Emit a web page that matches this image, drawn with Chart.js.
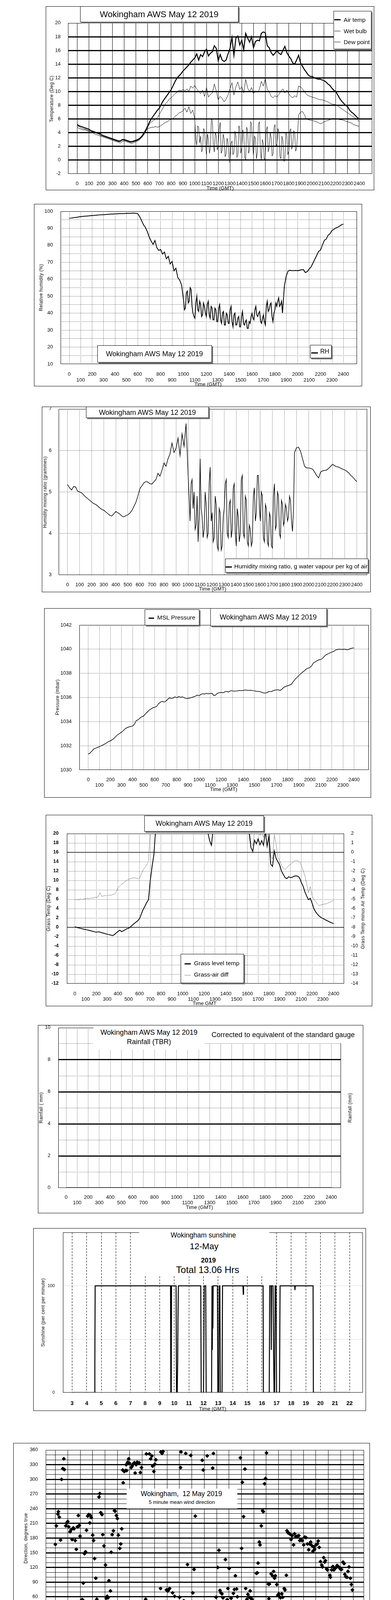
<!DOCTYPE html>
<html>
<head>
<meta charset="utf-8">
<title>Wokingham AWS May 12 2019</title>
<script src="https://cdn.jsdelivr.net/npm/chart.js@4.4.0/dist/chart.umd.min.js"></script>
<style>
  html, body { margin: 0; padding: 0; background: #fff; }
  body { position: relative; width: 1000px; height: 5000px; overflow: hidden;
         font-family: "Liberation Sans", Arial, sans-serif; color: #000; }
  .frame { position: absolute; border: 1px solid #000; box-sizing: border-box; background: #fff; }
  .frame canvas { position: absolute; left: 0; top: 0; }
  .box { position: absolute; box-sizing: border-box; background: #fff; overflow: hidden; }
  .edge { border: 1px solid #000; box-shadow: 3px 3px 0 #808080; overflow: visible; }
  .txt { position: absolute; white-space: pre; line-height: 1; }
  .sw { position: absolute; }
</style>
</head>
<body>
<script>
// ---------- axis ticks ----------
const hhmmTicks = [0,100,200,300,400,500,600,700,800,900,1000,1100,1200,1300,1400,1500,1600,1700,1800,1900,2000,2100,2200,2300,2400];
const tempTicks = [-2,0,2,4,6,8,10,12,14,16,18,20];
const rhTicks = [10,20,30,40,50,60,70,80,90,100];
const mixTicks = [3,4,5,6,7];
const pressTicks = [1030,1032,1034,1036,1038,1040,1042];
const grassTicks = [-12,-10,-8,-6,-4,-2,0,2,4,6,8,10,12,14,16,18,20];
const grassDiffTicks = [-14,-13,-12,-11,-10,-9,-8,-7,-6,-5,-4,-3,-2,-1,0,1,2];
const rainTicks = [0,2,4,6,8,10];
const sunTicks = [0,100];
const sunHours = [3,4,5,6,7,8,9,10,11,12,13,14,15,16,17,18,19,20,21,22];
const dirTicks = [0,30,60,90,120,150,180,210,240,270,300,330,360];
const dirHours = [0,1,2,3,4,5,6,7,8,9,10,11,12,13,14,15,16,17,18,19,20,21,22,23,24];
const speedTicks = [0,10,20,30,40,50];
const speedHours = [0,1,2,3,4,5,6,7,8,9,10,11,12,13,14,15,16,17,18,19,20,21,22,23];
const speedHourLabels = ['00:00','01:00','02:00','03:00','04:00','05:00','06:00','07:00','08:00','09:00','10:00','11:00',
  '12:00','13:00','14:00','15:00','16:00','17:00','18:00','19:00','20:00','21:00','22:00','23:00'];

// ---------- 10 minute values, 00:00 .. 24:00 ----------
const airTemp = [
  5.2,5.0,4.9,4.8,4.7,4.6, 4.5,4.3,4.2,4.1,4.0,3.9, 3.8,3.6,3.5,3.4,3.3,3.2, 3.1,3.0,2.9,2.8,2.8,3.0,
  3.0,2.9,2.8,2.7,2.7,2.8, 2.9,3.0,3.2,3.5,3.9,4.4, 5.0,5.6,6.1,6.5,6.9,7.3, 7.6,8.2,8.7,9.1,9.5,9.9,
  10.3,10.9,11.5,12.0,12.3,12.6, 13.0,13.3,13.6,13.9,14.3,14.6, 14.9,15.5,14.6,15.4,15.1,15.8, 16.2,15.2,15.6,15.8,16.7,16.3,
  14.5,15.4,14.6,14.4,14.6,15.5, 16.3,17.9,15.3,17.8,18.1,16.8, 17.5,16.1,18.5,17.8,17.2,18.0, 16.4,17.3,17.5,17.4,18.5,18.7,
  18.6,16.7,16.4,15.7,15.3,15.6, 16.0,15.6,15.4,16.0,16.6,15.7, 15.2,14.8,14.2,14.0,14.6,15.3, 14.2,13.7,13.2,12.8,12.4,12.2,
  12.2,12.0,11.9,11.8,11.8,11.7, 11.6,11.4,11.1,10.9,10.5,10.2, 10.0,9.5,9.0,8.6,8.3,8.0, 7.8,7.3,7.0,6.8,6.5,6.2, 6.0];
const wetBulb = [
  5.0,4.9,4.7,4.6,4.5,4.4, 4.3,4.2,4.1,4.0,3.9,3.8, 3.6,3.5,3.4,3.3,3.2,3.1, 3.0,2.9,2.8,2.7,2.7,2.9,
  2.9,2.8,2.7,2.6,2.6,2.7, 2.8,2.9,3.1,3.4,3.8,4.3, 4.8,5.3,5.6,5.8,6.0,6.2, 6.7,7.2,7.7,8.2,8.5,8.9,
  9.1,9.4,9.7,9.9,10.2,10.1, 10.3,10.1,10.4,10.0,10.8,10.5, 10.9,10.4,10.0,9.7,10.2,9.3, 10.6,9.2,9.6,9.8,11.1,10.1,
  8.8,9.3,9.0,8.5,8.9,9.5, 10.4,11.3,9.5,10.7,11.4,10.3, 10.7,9.8,11.8,10.5,10.0,10.6, 9.7,10.1,9.9,10.3,11.5,10.8,
  11.9,10.3,10.0,9.3,9.1,9.4, 9.2,9.6,10.1,10.4,9.8,10.2, 9.7,9.3,9.1,9.4,9.2,10.8, 10.7,10.4,10.0,9.6,9.4,9.3,
  9.2,9.1,9.0,8.9,8.8,8.8, 8.7,8.6,8.5,8.3,8.2,8.1, 8.1,7.9,7.7,7.5,7.3,7.1, 6.9,6.7,6.5,6.3,6.1,5.9, 5.6];

// dew point: 10 min 00:00-09:50, 5 min 10:00-18:45, 10 min 18:50-24:00
const dewPointNight = [
  4.8,4.6,4.5,4.4,4.4,4.3, 4.2,4.0,4.0,3.8,3.7,3.6, 3.5,3.4,3.3,3.2,3.1,3.0, 2.9,2.8,2.7,2.6,2.5,2.7,
  2.8,2.7,2.6,2.5,2.4,2.6, 2.7,2.8,3.0,3.3,3.7,4.2, 4.6,4.7,4.8,4.8,4.9,4.8, 4.9,5.1,5.3,5.5,5.6,5.8,
  6.0,6.1,6.4,6.6,6.9,7.0, 7.2,7.6,7.0,7.8,6.8,7.3];
const dewPointDay = [
  6.0,3.0,2.2,5.0,4.8,2.5,3.5,1.2,1.5,4.6,4.4,2.0,
  0.8,3.8,3.0,1.0,1.9,6.0,5.8,2.2,1.2,4.0,3.6,1.5,
  2.0,4.6,5.5,1.0,1.4,3.8,3.1,0.5,0.9,3.2,2.6,0.3,
  -0.4,2.4,2.8,0.8,1.1,4.2,3.6,0.4,0.6,5.0,4.7,1.0,
  1.8,4.4,3.9,0.3,0.1,4.8,4.3,1.0,1.5,5.6,5.4,2.0,
  0.7,3.5,3.2,0.2,1.2,5.2,5.6,1.4,0.0,3.0,2.5,0.1,
  0.3,4.4,4.9,1.2,1.8,4.0,3.3,0.6,0.9,4.8,5.2,2.0,
  2.4,4.6,4.1,0.5,0.2,3.5,2.9,-0.2,-0.1,4.0,3.6,0.8,
  1.3,4.2,4.6,1.6,2.1,4.3,4.0,1.3,1.7,3.8];
const dewPointEve = [
  6.6, 7.0,7.1,6.6,6.0,5.9,5.8, 5.8,5.7,5.6,5.5,5.3,5.4, 5.6,5.7,5.8,5.9,6.0,6.1, 6.0,6.0,5.9,5.9,5.8,5.7,
  5.6,5.5,5.4,5.2,5.1,5.0, 4.9];

const rhNight = [
  95.9,96.0,96.2,96.4,96.5,96.7, 96.9,97.0,97.1,97.2,97.3,97.4, 97.5,97.6,97.7,97.8,97.9,98.0, 98.0,98.1,98.2,98.3,98.4,98.4,
  98.5,98.5,98.6,98.6,98.7,98.7, 98.8,98.8,98.8,98.9,98.9,98.8, 98.6,96.8,94.5,92.0,90.5,88.0, 84.8,82.5,80.5,82.8,78.5,77.0,
  77.5,74.8,76.0,72.0,73.5,69.0, 70.5,65.0,66.5,61.0,59.5,56.5];
const rhDay = [
  48,42,43,52,53,46,47,55,54,44,40,38,
  37,46,50,42,41,47,45,38,39,46,44,40,
  38,45,47,39,37,44,43,36,36,43,42,35,
  35,43,45,36,34,40,41,33,33,40,39,34,
  34,42,44,35,32,39,40,33,33,37,38,32,
  32,38,41,34,33,35,36,31,31,35,34,38,
  40,37,36,42,44,39,38,40,41,35,34,37,
  39,35,33,44,47,41,42,45,46,38,35,40,
  42,46,44,47,49,44,45,47,40,48];
const rhEve = [
  56.0, 62.0,64.9,65.3,65.0,65.0,65.2, 65.0,65.3,65.6,65.7,63.9,64.5, 66.0,67.2,69.5,71.8,74.1,76.4,
  77.2,80.2,82.9,83.7,86.0,86.8, 88.7,89.4,90.2,90.6,91.3,92.1, 92.5];

const mixNight = [
  5.18,5.10,5.05,5.13,5.12,5.02, 5.00,4.98,4.93,4.88,4.84,4.80, 4.76,4.72,4.70,4.66,4.62,4.58, 4.56,4.52,4.48,4.44,4.42,4.47,
  4.53,4.50,4.47,4.42,4.40,4.43, 4.45,4.49,4.55,4.65,4.75,4.90, 5.08,5.15,5.22,5.25,5.24,5.20, 5.19,5.25,5.30,5.45,5.38,5.52,
  5.70,5.62,5.80,5.92,6.18,5.95, 6.05,6.30,5.88,6.40,6.10,6.65];
const mixDay = [
  5.45,4.9,4.30,5.2,5.30,4.6,5.00,4.1,4.20,4.9,3.80,4.4,
  5.80,4.6,4.40,3.9,4.10,5.0,4.70,3.9,4.00,5.2,5.60,4.3,
  4.50,3.8,3.90,4.9,4.70,3.7,3.60,4.6,4.50,3.6,3.70,4.4,
  4.60,5.2,5.30,4.0,3.90,4.7,4.80,3.9,4.10,5.1,5.20,4.0,
  3.70,4.6,4.40,3.8,4.00,5.3,5.40,4.0,3.90,4.9,4.80,3.8,
  3.70,4.2,4.10,3.7,3.80,4.9,5.10,4.3,4.50,5.4,5.40,4.6,
  4.30,5.0,4.90,3.9,3.80,4.7,4.60,3.8,3.70,4.5,4.40,3.7,
  3.65,4.9,5.20,4.1,4.20,5.0,4.90,4.0,3.90,4.8,4.70,4.2,
  4.30,4.7,4.60,4.3,4.40,4.9,4.80,4.3,4.05,4.6];
const mixEve = [
  5.95, 6.07,6.08,5.98,5.80,5.62,5.58, 5.58,5.57,5.55,5.48,5.40,5.34, 5.48,5.51,5.52,5.53,5.57,5.62,
  5.67,5.63,5.61,5.60,5.57,5.55, 5.53,5.50,5.46,5.40,5.36,5.30, 5.25];

const mslPressure = [
  1031.31,1031.40,1031.57,1031.74,1031.80,1031.86, 1031.93,1032.00,1032.07,1032.15,1032.25,1032.35,
  1032.41,1032.50,1032.63,1032.78,1032.92,1033.02, 1033.13,1033.25,1033.41,1033.50,1033.56,1033.60,
  1033.63,1033.80,1034.08,1034.15,1034.30,1034.40, 1034.47,1034.65,1034.80,1034.95,1035.05,1035.15,
  1035.19,1035.25,1035.47,1035.60,1035.68,1035.62, 1035.69,1035.85,1035.97,1035.92,1035.95,1036.05,
  1035.97,1036.08,1036.02,1036.05,1035.98,1035.90, 1035.92,1035.95,1036.00,1036.05,1036.10,1036.20,
  1036.14,1036.25,1036.31,1036.28,1036.35,1036.30, 1036.33,1036.35,1036.16,1036.20,1036.35,1036.40,
  1036.42,1036.38,1036.47,1036.50,1036.45,1036.55, 1036.55,1036.52,1036.53,1036.55,1036.58,1036.57,
  1036.58,1036.62,1036.60,1036.58,1036.60,1036.57, 1036.55,1036.52,1036.50,1036.48,1036.42,1036.38,
  1036.36,1036.42,1036.50,1036.48,1036.55,1036.60, 1036.64,1036.62,1036.58,1036.70,1036.85,1036.92,
  1036.97,1037.02,1037.09,1037.30,1037.50,1037.65, 1037.81,1037.95,1038.09,1038.20,1038.35,1038.42,
  1038.48,1038.62,1038.87,1038.95,1039.05,1039.12, 1039.15,1039.25,1039.43,1039.55,1039.62,1039.70,
  1039.76,1039.82,1039.93,1039.97,1040.00,1039.98, 1039.98,1040.00,1039.95,1039.97,1040.05,1040.08, 1040.12];
const grassTemp = [
  0.1,0.0,-0.1,-0.2,-0.3,-0.4, -0.47,-0.55,-0.65,-0.75,-0.85,-0.95, -1.04,-0.95,-1.0,-1.15,-1.25,-1.35, -1.47,-1.55,-1.65,-1.76,-1.55,-1.2,
  -0.9,-0.6,-0.9,-0.75,-0.5,-0.3, -0.18,0.1,0.45,0.8,1.1,1.4, 1.83,2.8,3.8,4.5,5.3,5.9, 10.0,13.0,15.5,21.0,24.0,26.0,
  27.0,28.0,29.0,29.5,30.0,30.5, 31.0,31.5,32.0,32.0,31.5,31.0, 30.0,29.0,28.0,27.0,26.0,25.0, 24.0,23.5,23.0,22.5,22.0,21.5,
  21.0,20.8,20.3,18.5,17.5,21.0, 22.0,22.0,22.0,22.0,21.0,21.0, 20.2,21.0,22.0,23.0,23.0,23.0, 23.0,23.0,22.0,22.0,21.5,21.0,
  20.5,20.2,17.0,16.2,18.6,17.8, 18.9,17.6,18.5,17.5,20.5,17.3, 19.5,13.5,13.0,16.3,14.7,14.0, 13.3,12.0,11.3,10.6,10.4,10.8,
  10.6,10.7,10.9,11.0,10.9,10.6, 9.6,8.8,7.6,6.7,5.9,6.2, 5.2,4.0,3.3,2.8,2.4,2.1, 1.9,1.7,1.5,1.3,1.1,0.95, 0.8];
const grassAirDiff = [
  -5.15,-5.0,-5.1,-4.95,-5.05,-4.95, -4.95,-4.9,-4.95,-4.85,-4.9,-4.8, -4.8,-4.75,-4.3,-4.7,-4.65,-4.6, -4.65,-4.55,-4.6,-4.5,-4.45,-4.2,
  -3.8,-3.6,-3.4,-3.3,-3.1,-3.0, -2.85,-2.8,-2.75,-2.7,-2.75,-2.8, -2.8,-2.3,-1.9,-1.6,-1.35,-0.9, 2.5,4.0,5.0,5.5,6.0,6.5,
  7.0,7.5,8.0,8.0,8.5,8.5, 9.0,9.0,9.0,9.0,8.5,8.5, 8.0,8.0,7.5,7.5,7.0,7.0, 6.5,6.5,6.0,6.0,6.0,6.0,
  6.0,6.0,5.5,4.0,3.5,5.0, 5.0,5.0,5.0,5.0,5.0,5.0, 5.0,5.0,5.0,5.0,5.0,5.0, 5.0,5.0,5.0,4.5,4.0,3.5,
  3.0,2.5,1.0,0.7,2.2,2.0, 2.4,1.8,2.2,1.6,2.6,1.7, 2.8,-0.4,-0.7,1.9,0.9,-0.5, -0.9,-1.35,-1.7,-1.85,-1.65,-1.4,
  -1.3,-1.1,-0.95,-0.85,-0.9,-1.0, -1.35,-1.9,-2.5,-3.35,-4.3,-3.65, -4.6,-5.0,-5.25,-5.5,-5.7,-5.6, -5.55,-5.5,-5.5,-5.4,-5.3,-5.2, -5.15];

// hourly rainfall total, mm
const rainfall = [0,0,0,0,0,0,0,0,0,0,0,0,0,0,0,0,0,0,0,0,0,0,0,0,0];

// sunshine, per cent per minute: [hour, value]
const sunshine = [
  [3,0],[4.55,0],[4.56,28],[4.58,100],[9.74,100],[9.76,0],[9.79,0],[9.81,100],[10.12,100],[10.15,0],[10.2,0],
  [10.23,30],[10.25,70],[10.28,100],[11.81,100],[11.84,0],[12.0,0],[12.05,100],[12.15,100],[12.18,0],[12.55,0],
  [12.58,100],[12.6,40],[12.62,100],[12.64,60],[12.66,100],[12.95,100],[12.98,0],[13.04,0],[13.07,100],[13.12,100],
  [13.15,0],[13.27,0],[13.3,100],[14.7,100],[14.72,92],[14.74,100],[16.08,100],[16.1,0],[16.5,0],[16.53,100],
  [16.62,100],[16.64,40],[16.66,100],[16.76,100],[16.8,33],[16.83,0],[16.87,0],[16.9,100],[16.96,100],[17.0,0],
  [17.2,0],[17.24,100],[18.24,100],[18.26,96],[18.28,100],[19.5,100],[19.52,0],[22,0]];

// 5 minute mean wind direction: [hour, degrees]
const windDir = [
  [0.0,167],[0.08,205],[0.2,229],[0.24,234],[0.32,223],[0.42,176],[0.5,300],[0.6,322],[0.68,342],[0.72,320],[0.84,205],
  [0.92,211],[1.0,214],[1.08,203],[1.19,193],[1.27,197],[1.35,177],[1.45,201],[1.5,199],[1.6,175],[1.69,157],[1.77,203],
  [1.85,226],[1.87,204],[1.93,206],[1.99,184],[2.13,54],[2.19,54],[2.25,88],[2.35,148],[2.43,152],[2.51,196],[2.61,225],
  [2.69,228],[2.77,211],[2.83,226],[2.89,222],[3.01,186],[3.08,175],[3.16,138],[3.26,98],[3.34,55],[3.42,37],[3.52,264],
  [3.58,271],[3.66,232],[3.76,228],[3.82,187],[3.92,164],[4.04,125],[4.1,57],[4.18,61],[4.24,58],[4.32,93],[4.44,72],
  [4.5,151],[4.58,187],[4.68,195],[4.76,236],[4.82,235],[4.92,226],[5.0,220],[5.08,186],[5.19,159],[5.27,168],[5.35,199],
  [5.43,319],[5.47,293],[5.55,316],[5.65,318],[5.71,330],[5.75,318],[5.83,335],[5.91,342],[5.97,333],[6.11,324],[6.19,327],
  [6.29,332],[6.37,334],[6.43,313],[6.51,330],[6.59,335],[6.67,333],[6.75,334],[6.85,314],[6.94,324],[7.02,6],[7.08,24],
  [7.18,12],[7.28,55],[7.34,352],[7.42,19],[7.52,0],[7.58,352],[7.68,342],[7.78,348],[7.84,327],[7.94,316],[8.02,331],
  [8.1,340],[8.16,15],[8.26,9],[8.34,16],[8.48,77],[8.5,356],[8.6,353],[8.68,357],[8.74,43],[8.88,50],[8.95,74],[9.01,47],
  [9.07,72],[9.13,75],[9.21,77],[9.27,33],[9.35,15],[9.45,68],[9.53,33],[9.61,61],[9.69,23],[9.73,33],[9.83,18],[9.87,27],
  [9.93,35],[10.01,59],[10.09,324],[10.13,356],[10.27,44],[10.35,52],[10.43,6],[10.51,353],[10.61,41],[10.65,126],[10.81,33],
  [10.89,37],[10.91,349],[11.02,13],[11.08,68],[11.18,116],[11.28,225],[11.32,30],[11.42,32],[11.54,42],[11.56,32],[11.74,4],
  [11.78,9],[11.82,10],[11.84,339],[11.92,319],[12.06,21],[12.12,25],[12.2,26],[12.24,348],[12.32,24],[12.42,23],[12.52,7],
  [12.6,5],[12.68,323],[12.74,353],[12.86,42],[12.95,59],[12.98,40],[13.09,120],[13.19,155],[13.27,73],[13.35,68],[13.43,66],
  [13.51,58],[13.61,24],[13.71,136],[13.77,41],[13.85,54],[13.91,77],[14.01,118],[14.1,41],[14.17,57],[14.27,21],[14.35,67],
  [14.43,75],[14.51,103],[14.61,76],[14.67,60],[14.79,33],[14.87,24],[14.91,344],[15.01,159],[15.07,294],[15.17,224],
  [15.28,321],[15.34,77],[15.44,55],[15.52,65],[15.64,59],[15.7,72],[15.74,58],[15.84,55],[15.94,46],[16.0,44],[16.08,38],
  [16.2,108],[16.28,109],[16.34,129],[16.44,172],[16.5,166],[16.6,205],[16.7,236],[16.76,234],[16.86,291],[16.94,302],
  [17.02,354],[17.07,21],[17.17,86],[17.21,56],[17.25,86],[17.39,107],[17.51,103],[17.59,112],[17.67,98],[17.73,103],
  [17.85,85],[17.93,63],[18.01,66],[18.07,60],[18.15,58],[18.25,66],[18.33,59],[18.45,77],[18.51,74],[18.62,104],[18.67,195],
  [18.75,191],[18.83,190],[18.92,188],[19.0,177],[19.08,185],[19.2,166],[19.28,189],[19.38,183],[19.5,184],[19.62,185],
  [19.7,175],[19.8,176],[19.9,175],[20.02,166],[20.1,182],[20.2,181],[20.32,168],[20.42,156],[20.5,168],[20.58,172],
  [20.66,165],[20.76,153],[20.82,162],[20.9,157],[21.01,166],[21.11,168],[21.19,174],[21.27,161],[21.37,132],[21.47,125],
  [21.53,121],[21.63,140],[21.71,131],[21.77,134],[21.87,117],[21.93,115],[22.13,104],[22.17,100],[22.27,115],[22.37,122],
  [22.45,115],[22.53,118],[22.63,120],[22.71,124],[22.79,122],[22.89,120],[22.97,117],[23.07,116],[23.19,131],[23.27,128],
  [23.33,106],[23.41,101],[23.51,100],[23.59,112],[23.67,121],[23.78,98],[23.86,85],[23.94,74]];

// wind speed, knots, 10 minute steps 00:00 .. 23:50
const meanSpeed = [
  0.9,1.2,1.5,1.6,2.0,1.4, 1.0,0.8,1.1,0.7,0.9,1.0, 1.2,2.3,1.6,1.3,1.5,1.1, 1.0,1.3,0.8,1.0,2.0,1.2,
  0.4,1.2,1.0,1.1,0.9,1.0, 1.1,0.9,0.8,0.2,0.9,1.4, 1.9,2.1,2.6,3.0,2.4,2.0, 1.6,1.9,1.5,2.1,1.4,2.0,
  1.5,2.0,1.7,1.9,1.4,2.2, 2.9,2.5,3.4,3.0,3.6,3.2, 3.1,2.4,1.1,3.0,3.4,2.5, 3.6,2.8,0.9,3.2,3.8,2.9,
  3.6,3.0,3.9,3.1,2.6,3.3, 3.6,4.6,2.1,4.1,3.3,3.6, 3.9,3.2,2.9,4.9,3.6,3.9, 2.9,0.6,0.9,4.1,4.6,5.1,
  5.6,4.8,4.1,3.0,1.4,2.1, 2.4,3.0,3.6,4.0,4.1,3.8, 4.1,3.7,3.6,3.2,3.1,6.9, 8.2,6.7,6.9,6.5,6.1,6.0,
  5.9,5.5,5.1,4.8,4.4,4.2, 4.1,3.6,3.1,2.8,2.6,2.7, 2.9,2.8,2.7,2.6,2.7,2.6, 2.6,1.6,1.4,1.6,1.7,1.8];
const gustSpeed = [
  1.2,1.8,2.2,2.5,2.0,2.4, 1.5,1.8,1.4,1.9,1.6,2.0, 1.9,3.2,2.6,2.2,2.5,2.0, 1.8,2.2,1.6,1.9,2.7,1.8,
  1.0,2.5,2.0,1.6,1.8,1.5, 1.7,1.4,1.2,0.5,1.6,2.4, 3.2,3.8,4.4,4.0,5.2,4.5, 3.5,4.2,3.2,4.5,2.8,4.8,
  3.0,4.4,3.3,4.0,2.8,4.6, 6.5,4.3,7.3,5.0,6.8,4.4, 8.6,4.8,6.4,3.8,7.6,5.2, 10.5,4.6,6.2,3.5,7.8,5.0,
  7.2,4.8,8.3,4.1,6.6,5.2, 9.3,6.1,3.6,7.8,5.4,6.9, 5.3,11.6,5.8,10.8,6.5,8.7, 4.4,1.8,9.5,6.2,10.3,7.0,
  8.6,5.4,4.2,3.6,2.1,4.5, 7.3,5.6,8.2,6.0,7.5,5.2, 8.4,5.8,7.0,5.0,6.4,12.3, 8.5,11.2,7.8,10.0,8.8,9.6,
  7.4,8.5,6.8,7.2,6.0,6.8, 5.0,4.4,3.6,4.2,2.8,3.6, 3.2,3.5,2.9,3.8,3.0,3.2, 3.6,2.0,2.4,2.8,2.6,2.7];
// speeds below 4 kt, plotted at x10: [hour, [values]]
const lowSpeedX10 = [
  [0.02,[5.4,6.7,7.9]],[0.1,[9.4,10.9]],[0.2,[10.6,10.1]],[0.29,[14.5,16.0,16.5]],[0.39,[15.5,13.0,11.4]],
  [0.49,[12.4,7.9,9.9]],[0.59,[3.4,6.4,4.9]],[0.65,[9.9,12.9]],[0.72,[22.0,21.0,19.0,17.0]],
  [0.84,[18.5,16.0,12.9,9.4,7.9,6.9,5.6]],[1.08,[10.9,12.4,11.4]],[1.17,[13.7,13.0,11.4]],[1.27,[10.9,10.4,8.4]],
  [1.37,[9.9,7.9,6.9,5.6]],[1.51,[6.4,9.4,8.4]],[1.66,[9.4,10.4,7.9]],[1.76,[8.9,11.9]],[1.92,[16.0,15.0,12.9,10.9]],
  [2.02,[15.0,13.5,10.9,8.4]],[2.11,[6.9,4.9,4.1]],[2.17,[11.9,13.5]],[2.25,[20.5,20.0,18.5,17.0,16.0]],
  [2.35,[14.5,13.0]],[2.45,[14.0,12.4]],[2.6,[15.5,14.0]],[2.68,[16.5,16.0]],[2.78,[16.5,15.0]],[2.84,[14.0,13.0]],
  [2.94,[12.4,11.4]],[3.03,[9.9,8.4,6.9]],[3.13,[10.4,8.9,7.4]],[3.23,[10.9,9.9,8.4]],[3.33,[9.4,7.9,6.9]],
  [3.52,[5.4,3.6,2.9]],[3.66,[17.0,16.5,15.0,12.9,11.4]],[3.76,[14.0,12.4,9.9]],[3.88,[10.9,9.4,7.9,6.4,4.6]],
  [3.97,[3.9,2.9]],[4.07,[5.9,7.4,8.9,10.9]],[4.21,[19.5,18.5,17.0,16.0,14.5,12.9]],[4.31,[12.4,10.9,9.9,8.4,7.4]],
  [4.5,[7.9,6.9,8.4]],[4.6,[8.9,9.9]],[4.76,[10.4,10.1,9.9]],[4.83,[9.9,8.9]],[4.93,[8.4,7.4,6.4]],
  [5.09,[7.9,6.9,5.9,4.9]],[5.19,[4.4,3.4,2.4,1.4]],[5.32,[5.9,4.4,3.4]],[5.42,[1.9,0.9,2.9]],[5.48,[1.4]],
  [5.58,[4.4,5.9,6.9]],[5.68,[8.4,9.9,10.9]],[5.77,[12.9,14.0,15.0]],[5.87,[16.5,18.5,20.0,21.0]],
  [5.97,[23.0,24.5,26.0,27.1]],[6.07,[25.1,23.0,22.0,21.0,20.0]],[6.17,[22.0,21.0,20.0,19.0]],[6.26,[23.5,23.0,22.0]],
  [6.36,[24.0,25.1,26.1]],[6.46,[25.1,23.0,21.0]],[6.56,[27.1,28.6,30.1,31.1]],[6.65,[32.1,33.1,34.1,35.1,36.6,37.6]],
  [6.75,[36.1,34.6,33.1,31.6]],[6.85,[29.1,27.6,25.1]],[6.95,[23.0,21.5,21.0,20.0]],[7.05,[22.5,22.0,21.0]],
  [7.14,[21.0,19.5,18.0,17.0]],[7.24,[15.0,14.0,13.0]],[7.34,[11.9,10.9,9.4]],[7.44,[17.0,18.5,20.0]],
  [7.54,[23.0,22.0,21.0]],[7.63,[20.0,19.0,18.0,16.0,14.0,12.4]],[7.73,[16.0,15.0,14.0]],[7.83,[19.0,18.0,16.5]],
  [7.93,[17.0,16.0,13.0]],[8.02,[16.0,15.0,14.0]],[8.12,[21.0,20.0,19.0,17.0]],[8.22,[23.5,22.0,21.0]],
  [8.32,[24.0,23.0,22.0]],[8.42,[21.5,21.0,20.0,19.0]],[8.51,[21.0,19.0,17.0,16.0,15.0]],[8.61,[18.0,16.5,15.5]],
  [8.71,[19.0,16.0,14.0,13.0]],[8.81,[23.0,21.5,20.0,18.5]],[8.91,[25.1,26.1,23.0]],[9.0,[28.1,29.1,31.1,31.6]],
  [9.1,[32.1,33.1,34.1]],[9.2,[36.1,37.1,36.6,35.1]],[9.3,[38.2,37.1,35.6,34.1]],[9.4,[37.7,36.1,34.6,33.1]],
  [9.49,[35.6,33.6,32.1]],[9.59,[31.1,29.1,28.1]],[9.69,[30.1,32.1,33.6]],[9.79,[38.7,37.7,36.6]],
  [9.88,[36.1,35.1,34.1,33.1,31.1]],[9.98,[39.7,38.2,36.6]],[10.08,[36.1,34.1,32.1,30.1,28.1]],[10.18,[24.0,19.0,16.0]],
  [10.28,[12.4,11.4]],[10.37,[33.1,33.1,32.1]],[10.47,[29.6,27.6,26.1]],[10.57,[23.0,21.5,20.0]],[10.67,[24.0,26.1,27.6]],
  [10.77,[27.1,25.6,24.0]],[10.86,[23.0,21.0,19.0,16.0]],[10.96,[31.1,29.1,26.1,25.1]],[11.06,[39.7,38.7,37.1,35.1]],
  [11.16,[38.2,36.1,34.1,32.1]],[11.25,[31.1,29.1,27.1,25.1]],[11.35,[19.0,17.0,11.9,10.9,8.9]],[11.45,[27.1,24.0]],
  [11.55,[33.1,31.1]],[11.65,[39.7,37.1]],[11.74,[35.1,33.1,32.1]],[11.84,[36.1,36.6]],[11.94,[37.7,35.6,34.1,33.1]],
  [12.04,[31.1,29.1,27.6,26.1]],[12.14,[36.1,35.1]],[12.23,[34.6,33.1,31.6]],[12.33,[29.6,28.6,27.6]],
  [12.43,[26.1,25.1,23.5]],[12.53,[22.0,21.0,19.0]],[12.62,[17.0,18.0]],[12.72,[29.6,28.1,25.6]],[12.82,[37.1,36.1]],
  [12.92,[39.2,38.2,36.6]],[13.02,[34.1,32.1,30.1]],[13.11,[26.1,24.0,22.0]],[13.21,[20.0,18.5]],[13.31,[26.1,24.5,23.0]],
  [13.41,[28.6,27.6]],[13.51,[32.1,31.1]],[13.6,[38.7,37.7,36.6]],[13.7,[33.6,32.1]],[13.8,[28.6,27.1,25.1]],
  [13.9,[23.0,21.0,19.0]],[14.0,[16.5,15.0,13.5,10.9]],[14.09,[19.0,21.0,22.0]],[14.19,[25.1,26.1,27.1]],
  [14.29,[30.1,31.1,32.1]],[14.39,[36.1,37.7,38.7,39.7]],[14.48,[38.7,37.1,35.6]],[14.58,[35.1,34.1,32.1,30.1]],
  [14.68,[30.1,29.1,27.1,25.1]],[14.78,[37.7,36.6,35.6]],[14.88,[34.6,31.1]],[14.97,[36.1,33.6,32.1]],
  [15.07,[30.1,28.1,26.1]],[15.17,[23.0,21.0,19.0,17.0,15.0,13.0,10.9,8.9]],[15.27,[28.6,27.1,25.1,23.0]],
  [15.37,[20.5,16.0,13.5]],[15.46,[35.1,31.1]],[16.15,[37.7,35.1,33.1,31.6]],[16.25,[31.1,29.6,28.1,26.6]],
  [16.34,[26.1,25.1,23.5,22.0]],[16.44,[24.0,25.1,26.1]],[16.54,[22.5,21.0,19.0,17.0]],[16.64,[15.0,13.0,11.4,10.4]],
  [16.74,[22.0,20.0,18.0]],[16.83,[23.0,22.0,21.0,19.0]],[16.93,[19.5,18.5,16.5,15.0]],[17.03,[22.0,21.0]],
  [17.13,[26.1,27.6,29.1]],[17.22,[28.1,27.1]],[17.32,[32.1,33.1,34.6,36.1]],[17.42,[38.7]],[17.91,[40.2,39.2]],
  [18.01,[38.7,38.2,37.1]],[18.11,[39.7,38.7,37.7]],[18.2,[35.6,34.1,32.6]],[18.3,[32.1,31.1,30.1,29.1]],
  [18.4,[28.1,27.6]],[18.5,[36.1,35.1,33.1]],[18.59,[38.7,37.1,36.1]],[18.69,[32.6,31.1,29.1,26.6,25.6]],[18.79,[40.2]],
  [20.85,[38.2,36.6]],[21.0,[37.1,38.2,39.2]],[21.14,[39.2,38.2,36.6,35.6]],[21.24,[36.1,34.6,33.1,30.6]],
  [21.34,[27.6,27.1,26.1,25.1]],[21.43,[24.5,23.0,22.0,21.0]],[21.53,[26.1,27.1,25.1,23.0]],[21.63,[28.1,29.1,27.6,26.1]],
  [21.73,[25.6,25.1,24.0]],[21.82,[27.6,27.1,26.1,25.1]],[21.92,[28.1,28.6,27.1]],[22.02,[27.6,26.1,25.1,24.0]],
  [22.12,[27.1,26.6,26.1]],[22.22,[26.1,25.6,25.1]],[22.31,[27.1,26.1,25.6]],[22.41,[27.6,28.1,26.6]],
  [22.51,[27.1,26.1,25.1]],[22.61,[25.6,24.5,24.0]],[22.71,[25.1,24.5]],[22.8,[26.1,27.1,28.1]],
  [22.9,[29.6,29.1,27.6,26.1,25.1]],[23.0,[23.0,22.0,21.0,20.0]],[23.1,[19.0,18.0,16.5,15.0,14.0,13.0]],
  [23.19,[16.0,17.0,18.0]],[23.29,[16.0,16.5]],[23.39,[17.0,17.5,18.0]],[23.49,[18.0,18.5,19.0]],[23.59,[18.0,18.3,18.5]],
  [23.68,[18.5,18.0]],[23.78,[19.0,18.5,18.0]],[23.98,[17.5]]];

// ---------- helpers ----------
Chart.defaults.font.family = '"Liberation Sans", Arial, sans-serif';
Chart.defaults.color = '#000';

// values at a fixed step (minutes) from a start time (minutes), onto the 0..2400 axis or onto hours
const onHHMM = (vals, step, start = 0) => vals.map((v, i) => ({ x: (start + i * step) * 100 / 60, y: v }));
const onHours = (vals, step) => vals.map((v, i) => ({ x: i * step / 60, y: v }));
const dayTrace = (night, day, eve) => [...onHHMM(night, 10, 0), ...onHHMM(day, 5, 600), ...onHHMM(eve, 10, 1130)];
const twoRow = v => ((v / 100) % 2 === 0 ? String(v) : ['', String(v)]);

const gridPlugin = {
  id: 'wxgrid',
  beforeDatasetsDraw(chart, args, opts) {
    const ctx = chart.ctx, a = chart.chartArea;
    ctx.save();
    for (const g of (opts.lines || [])) {
      const s = chart.scales[g.scale];
      ctx.lineWidth = g.width || 1;
      ctx.strokeStyle = g.color || '#000';
      ctx.setLineDash(g.dash || []);
      for (const v of g.values) {
        const raw = s.getPixelForValue(v);
        const p = (ctx.lineWidth % 2 === 1) ? Math.round(raw - 0.5) + 0.5 : Math.round(raw);
        ctx.beginPath();
        if (s.isHorizontal()) { ctx.moveTo(p, a.top); ctx.lineTo(p, a.bottom); }
        else { ctx.moveTo(a.left, p); ctx.lineTo(a.right, p); }
        ctx.stroke();
      }
    }
    ctx.setLineDash([]);
    ctx.lineWidth = 1;
    ctx.strokeStyle = '#000';
    const l = Math.round(a.left), t = Math.round(a.top);
    ctx.strokeRect(l + 0.5, t + 0.5, Math.round(a.right) - l - 1, Math.round(a.bottom) - t - 1);
    ctx.restore();
  }
};

function put(el) { document.body.appendChild(el); return el; }

function makeFrame(f) {
  const d = document.createElement('div');
  d.className = 'frame';
  d.style.left = f[0] + 'px'; d.style.top = f[1] + 'px';
  d.style.width = (f[2] - f[0]) + 'px'; d.style.height = (f[3] - f[1]) + 'px';
  const c = document.createElement('canvas');
  c.width = f[2] - f[0] - 2; c.height = f[3] - f[1] - 2;
  c.style.width = c.width + 'px'; c.style.height = c.height + 'px';
  d.appendChild(c);
  put(d);
  return c;
}

// f = frame box, p = plot area, both page pixels [left, top, right, bottom]
function buildChart(f, p, cfg) {
  const canvas = makeFrame(f);
  const ox = f[0] + 1, oy = f[1] + 1;
  const W = canvas.width, H = canvas.height;
  const left = p[0] - ox, top = p[1] - oy, right = p[2] - ox, bottom = p[3] - oy;
  const scales = {};
  let hasRight = false;
  for (const [id, s] of Object.entries(cfg.scales)) {
    if (s.side === 'right') hasRight = true;
    scales[id] = {
      type: 'linear', axis: s.side === 'bottom' ? 'x' : 'y', position: s.side,
      min: s.min, max: s.max, bounds: 'data',
      grid: { display: false }, border: { display: false },
      afterBuildTicks: a => { a.ticks = s.ticks.map(v => ({ value: v })); },
      afterFit: a => {
        if (s.side === 'bottom') a.height = H - bottom;
        else if (s.side === 'left') a.width = left;
        else a.width = W - right;
        a.paddingTop = 0; a.paddingBottom = 0; a.paddingLeft = 0; a.paddingRight = 0;
      },
      ticks: {
        autoSkip: false, maxRotation: 0, minRotation: 0, padding: s.pad,
        font: s.font || { size: 12.5 }, display: s.show !== false,
        callback: s.fmt || (v => String(v))
      }
    };
  }
  return new Chart(canvas, {
    type: 'line',
    data: { datasets: cfg.datasets },
    options: {
      responsive: false, animation: false, events: [],
      layout: { padding: { left: 0, top: top, right: hasRight ? 0 : W - right, bottom: 0 } },
      scales,
      elements: { point: { radius: 0 }, line: { tension: 0 } },
      plugins: { legend: { display: false }, tooltip: { enabled: false }, wxgrid: { lines: cfg.grid } }
    },
    plugins: [gridPlugin]
  });
}

function label(str, x, y, size, opt = {}) {
  const d = document.createElement('div');
  d.className = 'txt';
  d.textContent = str;
  d.style.left = x + 'px'; d.style.top = y + 'px';
  d.style.fontSize = size + 'px';
  if (opt.bold) d.style.fontWeight = 'bold';
  if (opt.ls) d.style.letterSpacing = opt.ls + 'px';
  let tr = opt.left ? 'translate(0,-50%)' : 'translate(-50%,-50%)';
  if (opt.rot) tr += ' rotate(-90deg)';
  d.style.transform = tr;
  return put(d);
}
const yTitle = (str, x, y) => label(str, x, y, 12, { rot: true, ls: 0.35 });
const xTitle = (str, x, y) => label(str, x, y, 13);

function panel(l, t, r, b, edged) {
  const d = document.createElement('div');
  d.className = 'box' + (edged ? ' edge' : '');
  d.style.left = l + 'px'; d.style.top = t + 'px';
  d.style.width = (r - l) + 'px'; d.style.height = (b - t) + 'px';
  return put(d);
}
function swatch(l, y, w, h, color) {
  const d = document.createElement('div');
  d.className = 'sw';
  d.style.left = l + 'px'; d.style.top = (y - h / 2) + 'px';
  d.style.width = w + 'px'; d.style.height = h + 'px';
  d.style.background = color;
  return put(d);
}
const blackLine = (data, w, extra = {}) => Object.assign({ data, borderColor: '#000', borderWidth: w, pointRadius: 0 }, extra);

// ---------- 1: temperatures ----------
buildChart([117, 16, 957, 487], [174, 59, 952, 445], {
  scales: {
    x: { side: 'bottom', min: -78, max: 2510, ticks: hhmmTicks, pad: 10, font: { size: 13 } },
    y: { side: 'left', min: -2, max: 20, ticks: tempTicks, pad: 11 }
  },
  grid: [
    { scale: 'y', values: [0, 2, 4, 6, 8, 10, 12, 14, 16, 18], width: 3 },
    { scale: 'x', values: hhmmTicks, width: 1 }
  ],
  datasets: [
    blackLine(onHHMM(airTemp, 10), 2.5),
    blackLine(onHHMM(wetBulb, 10), 1),
    blackLine(dayTrace(dewPointNight, dewPointDay, dewPointEve), 1)
  ]
});
yTitle('Temperature (Deg C)', 132, 253);
xTitle('Time (GMT)', 563, 481);
panel(205, 16, 610, 57, true);
label('Wokingham AWS May 12 2019', 407, 37, 22);
panel(853, 28, 950, 126, true);
swatch(855, 50, 16, 3, '#000'); label('Air temp', 879, 50, 15, { left: true });
swatch(855, 79, 16, 1, '#000'); label('Wet bulb', 879, 79, 15, { left: true });
swatch(855, 107, 16, 1, '#000'); label('Dew point', 879, 107, 15, { left: true });

// ---------- 2: relative humidity ----------
buildChart([87, 522, 926, 989], [155, 541, 913, 932], {
  scales: {
    x: { side: 'bottom', min: -76, max: 2519, ticks: hhmmTicks, pad: 10.5, font: { size: 13, lineHeight: 1.15 }, fmt: twoRow },
    y: { side: 'left', min: 10, max: 100, ticks: rhTicks, pad: 11.5, font: { size: 13 } }
  },
  grid: [
    { scale: 'y', values: [15, 20, 25, 30, 35, 40, 45, 50, 55, 60, 65, 70, 75, 80, 85, 90, 95], width: 1, dash: [1, 2] },
    { scale: 'x', values: hhmmTicks, width: 1, dash: [1, 2] }
  ],
  datasets: [blackLine(dayTrace(rhNight, rhDay, rhEve), 2)]
});
yTitle('Relative humidity (%)', 105, 736);
xTitle('Time (GMT)', 532, 983);
panel(249, 884, 542, 928, true);
label('Wokingham AWS May 12 2019', 395, 906, 18);
panel(793, 883, 848, 917, true);
swatch(796, 903, 17, 3, '#000'); label('RH', 819, 900, 16, { left: true });

// ---------- 3: humidity mixing ratio ----------
buildChart([107, 1041, 948, 1516], [150, 1047, 939, 1472], {
  scales: {
    x: { side: 'bottom', min: -74, max: 2486, ticks: hhmmTicks, pad: 9.2, font: { size: 13 } },
    y: { side: 'left', min: 3, max: 7, ticks: mixTicks, pad: 10 }
  },
  grid: [
    { scale: 'y', values: [4, 5, 6], width: 1, dash: [1, 2] },
    { scale: 'x', values: hhmmTicks, width: 1, dash: [1, 2] }
  ],
  datasets: [blackLine(dayTrace(mixNight, mixDay, mixEve), 1.5)]
});
yTitle('Humidity mixing ratio (grammes)', 115, 1260);
xTitle('Time (GMT)', 544, 1507);
panel(220, 1041, 534, 1070, true);
label('Wokingham AWS May 12 2019', 377, 1056, 18);
const lg3 = panel(576, 1430, 942, 1466, true);
lg3.style.overflow = 'hidden';
swatch(577, 1451, 16, 3, '#000');
label('Humidity mixing ratio, g water vapour per kg of air', 599, 1450, 15.5, { left: true });

// ---------- 4: pressure ----------
buildChart([113, 1557, 949, 2042], [203, 1600, 943, 1971], {
  scales: {
    x: { side: 'bottom', min: -80.5, max: 2532, ticks: hhmmTicks, pad: 10.8, font: { size: 13, lineHeight: 1.05 }, fmt: twoRow },
    y: { side: 'left', min: 1030, max: 1042, ticks: pressTicks, pad: 11.7, font: { size: 13 } }
  },
  grid: [
    { scale: 'y', values: [1032, 1034, 1036, 1038, 1040], width: 1, dash: [1, 2] },
    { scale: 'x', values: hhmmTicks, width: 1, dash: [1, 2] }
  ],
  datasets: [blackLine(onHHMM(mslPressure, 10), 1.5)]
});
yTitle('Pressure (mbar)', 147, 1785);
xTitle('Time (GMT)', 572, 2020);
panel(370, 1560, 510, 1601, true);
swatch(380, 1582, 14, 3, '#000'); label('MSL Pressure', 402, 1581, 15.5, { left: true });
panel(538, 1557, 836, 1603, true);
label('Wokingham AWS May 12 2019', 686, 1580, 18);

// ---------- 5: grass temperature ----------
buildChart([117, 2086, 952, 2576], [171, 2134, 880, 2518], {
  scales: {
    x: { side: 'bottom', min: -73.6, max: 2497, ticks: hhmmTicks, pad: 11.7, font: { size: 13, lineHeight: 1.06 }, fmt: twoRow },
    y: { side: 'left', min: -12, max: 20, ticks: grassTicks, pad: 13, font: { size: 12.5, weight: 'bold' } },
    y2: { side: 'right', min: -14, max: 2, ticks: grassDiffTicks, pad: 9.7, font: { size: 12.5 } }
  },
  grid: [
    { scale: 'y', values: [-10, -8, -6, -4, -2, 2, 4, 6, 8, 10, 12, 14, 18], width: 1, dash: [1, 2] },
    { scale: 'y', values: [0, 16], width: 1.5 },
    { scale: 'x', values: hhmmTicks, width: 1, dash: [1, 2] }
  ],
  datasets: [
    blackLine(onHHMM(grassTemp, 10), 2, { yAxisID: 'y' }),
    { data: onHHMM(grassAirDiff, 10), borderColor: '#808080', borderWidth: 1, pointRadius: 0, yAxisID: 'y2' }
  ]
});
yTitle('Grass Temp (Deg C)', 124, 2326);
yTitle('Grass Temp minus Air Temp (Deg C)', 928, 2326);
xTitle('Time GMT', 523, 2568);
panel(369, 2088, 675, 2129, true);
label('Wokingham AWS May 12 2019', 522, 2108, 18);
panel(462, 2442, 624, 2517, true);
swatch(472, 2467, 16, 3, '#000'); label('Grass level temp', 496, 2466, 15.5, { left: true });
swatch(472, 2496, 16, 1, '#808080'); label('Grass-air diff', 496, 2495, 15.5, { left: true });

// ---------- 6: rainfall ----------
buildChart([97, 2624, 929, 3106], [149, 2631, 872, 3041], {
  scales: {
    x: { side: 'bottom', min: -70.8, max: 2488, ticks: hhmmTicks, pad: 9.1, font: { size: 13, lineHeight: 1.1 }, fmt: twoRow },
    y: { side: 'left', min: 0, max: 10, ticks: rainTicks, pad: 12 }
  },
  grid: [
    { scale: 'y', values: [1, 3, 5, 7, 9], width: 1, dash: [1, 2] },
    { scale: 'y', values: [2, 4, 6, 8], width: 3 },
    { scale: 'x', values: hhmmTicks, width: 1, dash: [1, 2] }
  ],
  datasets: [blackLine(rainfall.map((v, i) => ({ x: i * 100, y: v })), 3)]
});
yTitle('Rainfall ( mm)', 105, 2836);
yTitle('Rainfall (mm)', 895, 2836);
xTitle('Time (GMT)', 510, 3090);
panel(239, 2627, 523, 2686, false);
panel(523, 2626, 876, 2671, false);
label('Wokingham AWS May 12 2019', 381, 2643, 18);
label('Rainfall (TBR)', 381, 2667, 18);
label('Corrected to equivalent of the standard gauge', 541, 2649, 18, { left: true });

// ---------- 7: sunshine ----------
buildChart([85, 3144, 936, 3612], [161, 3155, 928, 3565], {
  scales: {
    x: { side: 'bottom', min: 2.376, max: 22.907, ticks: sunHours, pad: 11.7, font: { size: 14.5, weight: 'bold' } },
    y: { side: 'left', min: 0, max: 150, ticks: sunTicks, pad: 13, font: { size: 11 } }
  },
  grid: [
    { scale: 'x', values: sunHours, width: 1, dash: [5, 3] },
    { scale: 'y', values: [50, 100], width: 1, dash: [1, 2], color: '#999' }
  ],
  datasets: [blackLine(sunshine.map(([h, v]) => ({ x: h, y: v })), 2.5)]
});
yTitle('Sunshine (per cent per minute)', 110, 3360);
xTitle('Time (GMT)', 544, 3606);
panel(356, 3152, 689, 3211, false);
panel(371, 3211, 670, 3267, false);
label('Wokingham sunshine', 520, 3163, 17.5);
label('12-May', 522, 3191, 22);
label('2019', 533, 3226, 17, { bold: true });
label('Total 13.06 Hrs', 531, 3251, 24);

// ---------- 8: wind direction ----------
buildChart([34, 3694, 946, 4211], [117, 3712, 931, 4163], {
  scales: {
    x: { side: 'bottom', min: -0.775, max: 24.88, ticks: dirHours, pad: 9, font: { size: 13 } },
    y: { side: 'left', min: 0, max: 360, ticks: dirTicks, pad: 12, font: { size: 12.5 } }
  },
  grid: [
    { scale: 'y', values: [10, 20, 40, 50, 70, 80, 100, 110, 130, 140, 160, 170, 190, 200, 220, 230, 250, 260, 280, 290, 310, 320, 340, 350], width: 1 },
    { scale: 'y', values: [30, 60, 90, 120, 150, 180, 210, 240, 270, 300, 330], width: 3 },
    { scale: 'x', values: dirHours, width: 1 }
  ],
  datasets: [{
    data: windDir.map(([h, d]) => ({ x: h, y: d })), showLine: false, clip: false,
    pointStyle: 'rectRot', pointRadius: 5, pointBackgroundColor: '#000', pointBorderColor: '#000', pointBorderWidth: 0.5
  }]
});
yTitle('Direction, degrees true', 66, 3938);
xTitle('Time (GMT)', 523, 4198);
panel(324, 3811, 607, 3862, false);
label('Wokingham,  12 May 2019', 464, 3825, 17.5);
label('5 minute mean wind direction', 465, 3845, 13);

// ---------- 9: wind speed ----------
buildChart([36, 4236, 948, 4731], [94, 4280, 943, 4659], {
  scales: {
    x: { side: 'bottom', min: -0.737, max: 25.32, ticks: speedHours, pad: 10.1, font: { size: 12, lineHeight: 1.22 },
         fmt: v => (v % 2 === 0 ? speedHourLabels[v] : ['', speedHourLabels[v]]) },
    y: { side: 'left', min: 0, max: 50, ticks: speedTicks, pad: 11, font: { size: 12.5 } }
  },
  grid: [
    { scale: 'y', values: [5, 10, 15, 20, 25, 30, 35, 40, 45], width: 1, dash: [1, 2] },
    { scale: 'x', values: speedHours, width: 1, dash: [1, 2] }
  ],
  datasets: [
    blackLine(onHours(meanSpeed, 10), 2),
    { data: onHours(gustSpeed, 10), borderColor: '#505050', borderWidth: 1, pointRadius: 0 },
    {
      data: lowSpeedX10.flatMap(([h, vs]) => vs.map(v => ({ x: h, y: v }))), showLine: false,
      pointStyle: 'rectRot', pointRadius: 5.5, pointBackgroundColor: '#c0c0c0', pointBorderColor: '#000', pointBorderWidth: 0.8
    }
  ]
});
yTitle('Speed (knots)', 50, 4470);
xTitle('Time (GMT)', 518, 4709);
label('Wokingham,  12 May 2019', 264, 4258, 18);
label('Wind speed, 10 min mean / max gust', 574, 4248, 13);
label('Speeds below 4 kt shown at x10 scale', 572, 4266, 13);
panel(725, 4243, 945, 4267, true);
swatch(755, 4254, 11, 3, '#000');
label('Speed x 1', 774, 4254, 10.5, { left: true, ls: 0.6 });
const dm = swatch(843, 4254, 7, 7, '#c0c0c0');
dm.style.border = '1px solid #000';
dm.style.boxSizing = 'border-box';
dm.style.transform = 'rotate(45deg)';
label('Speed / 10', 858, 4254, 10.5, { left: true, ls: 0.6 });
</script>
</body>
</html>
